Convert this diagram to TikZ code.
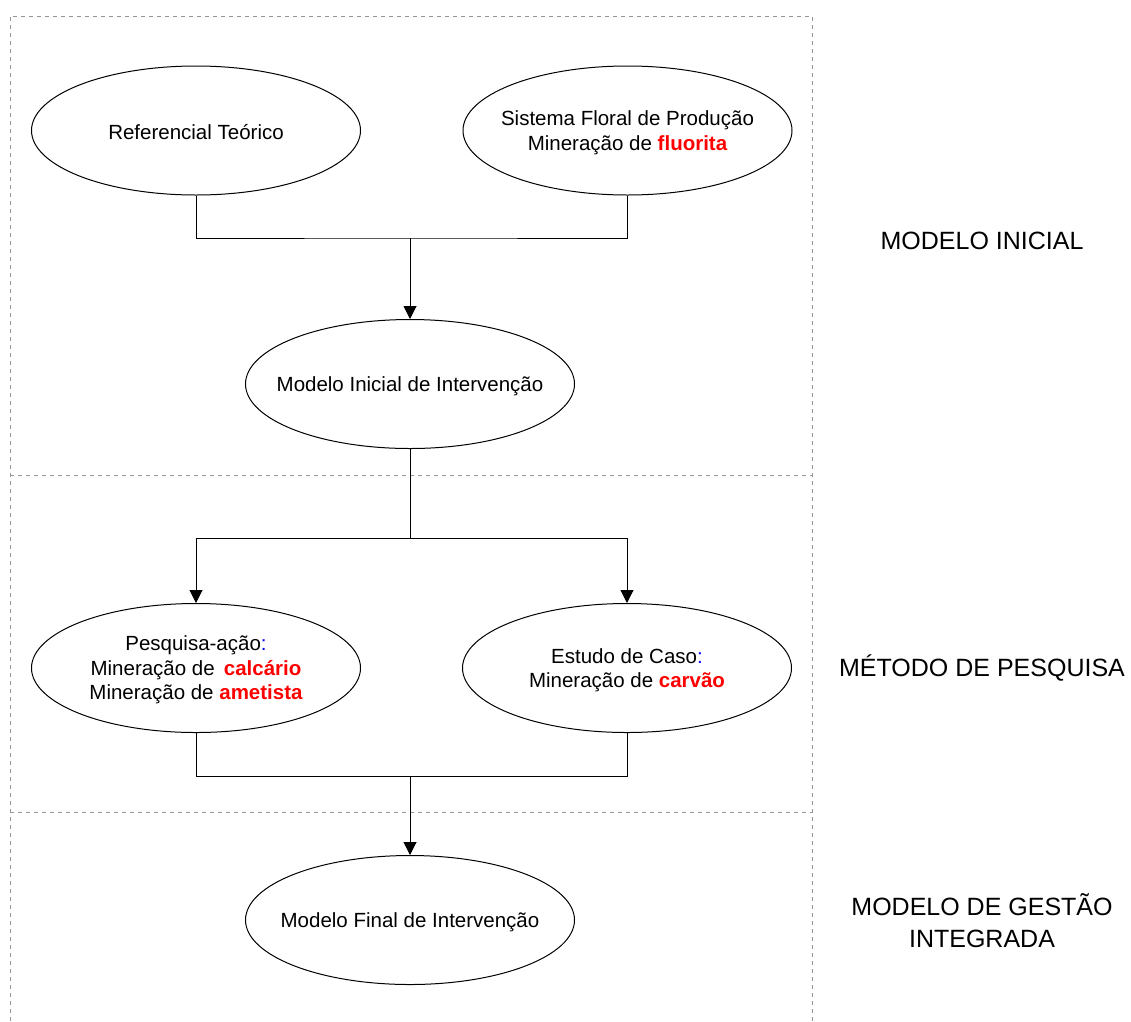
\documentclass[tikz,border=0pt]{standalone}
\usepackage{fontspec}
\setmainfont{Liberation Sans}
\usetikzlibrary{shapes.geometric,arrows.meta}
\definecolor{frame}{RGB}{150,150,150}
\definecolor{hired}{RGB}{255,0,0}
\definecolor{colblue}{RGB}{0,0,255}
\begin{document}
\begin{tikzpicture}[x=1pt,y=-1pt,
  oval/.style={draw=black, line width=1pt, ellipse, inner sep=0pt,
    minimum width=329pt, minimum height=129pt,
    label={[align=center, yshift=-2pt, font=\fontsize{20.5}{24.5}\selectfont]center:#1}},
  lbl/.style={align=center, font=\fontsize{25}{32}\selectfont},
  conn/.style={draw=black, line width=1pt},
  arr/.style={conn, -{Triangle[length=13pt,width=13pt]}}]
\useasboundingbox (0,0) rectangle (1131,1021);
\tikzset{sep/.style={draw=frame, line width=0.8pt, dash pattern=on 4pt off 4pt}}
% dashed frame
\draw[sep] (10,1021) -- (10,16) -- (812,16) -- (812,1021);
\draw[sep] (10,475) -- (812,475);
\draw[sep] (10,812) -- (812,812);
% nodes
\node[oval={Referencial Teórico}] (ref) at (196,130.5) {};
\node[oval={Sistema Floral de Produção\\Mineração de {\bfseries\color{hired}fluorita}}] (sis) at (627.5,130.5) {};
\node[oval={Modelo Inicial de Intervenção}] (mi) at (410,384) {};
\node[oval={Pesquisa-ação{\color{colblue}:}\\Mineração de \,{\bfseries\color{hired}calcário}\\Mineração de {\bfseries\color{hired}ametista}}] (pes) at (196,668) {};
\node[oval={Estudo de Caso{\color{colblue}:}\\Mineração de {\bfseries\color{hired}carvão}}] (est) at (627,668) {};
\node[oval={Modelo Final de Intervenção}] (mf) at (410,920) {};
% labels
\node[lbl] (l1) at (982,241) {MODELO INICIAL};
\node[lbl] (l2) at (982,668) {MÉTODO DE PESQUISA};
\node[lbl] (l3) at (982,921) {MODELO DE GESTÃO\\INTEGRADA};
% connectors
\coordinate (j1) at (410,238);
\coordinate (j2) at (410,538);
\coordinate (j3) at (410,776);
\draw[conn] (ref.south) |- (j1) -| (sis.south);
\draw[arr] (j1) -- (mi.north);
\draw[conn] (mi.south) -- (j2);
\draw[arr] (j2) -| (pes.north);
\draw[arr] (j2) -| (est.north);
\draw[conn] (pes.south) |- (j3) -| (est.south);
\draw[arr] (j3) -- (mf.north);
\end{tikzpicture}
\end{document}
